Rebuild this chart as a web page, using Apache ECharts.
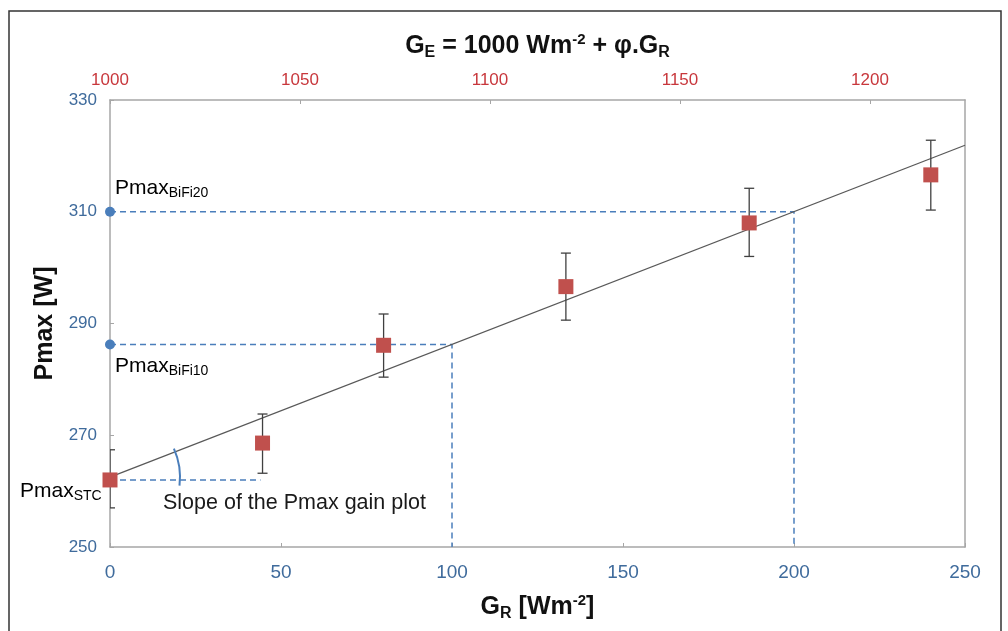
<!DOCTYPE html>
<html>
<head>
<meta charset="utf-8">
<script src="https://cdn.jsdelivr.net/npm/echarts@6/dist/echarts.min.js"></script>
<style>
  html, body { margin: 0; padding: 0; background: #fff; }
  #main { width: 1008px; height: 631px; }
</style>
</head>
<body>
<div id="main"></div>
<script>
// irradiance on the rear side, W/m2
var grVals = [0, 44.6, 80, 133.3, 186.9, 240];
var pmaxVals = [262.0, 268.6, 286.1, 296.6, 308.0, 316.6];
var errHigh = [267.4, 273.8, 291.7, 302.6, 314.2, 322.8];
var errLow = [257.0, 263.2, 280.4, 290.6, 302.0, 310.3];

// linear fit of Pmax vs G_R
var trendX = [0, 250];
var trendY = [262.5, 321.9];

// Pmax read at G_R = 100 and 200
var bifi10 = [100, 286.25];
var bifi20 = [200, 310];
var stcLine = [[0, 262], [44, 262]];

var bottomTicks = [0, 50, 100, 150, 200, 250];
var topTicks = [1000, 1050, 1100, 1150, 1200];
var leftTicks = [250, 270, 290, 310, 330];

var FONT = 'Liberation Sans';
var axisGray = '#a6a6a6';
var blueTxt = '#3f6b9c';
var redTxt = '#c8373c';
var dashBlue = '#4a7ebb';

var chart = echarts.init(document.getElementById('main'));

var pts = grVals.map(function (x, i) { return [x, pmaxVals[i]]; });
var errs = grVals.map(function (x, i) { return [x, errLow[i], errHigh[i]]; });

var nameRich = {
    b: { fontSize: 25, fontWeight: 'bold', color: '#111', fontFamily: FONT, lineHeight: 28 },
    s: { fontSize: 16, fontWeight: 'bold', color: '#111', fontFamily: FONT, padding: [13, 0, 0, 0], lineHeight: 16 },
    p: { fontSize: 15, fontWeight: 'bold', color: '#111', fontFamily: FONT, padding: [0, 0, 13, 0], lineHeight: 15 }
};

var option = {
    backgroundColor: '#fff',
    animation: false,
    textStyle: { fontFamily: FONT },
    grid: { left: 110, right: 43, top: 100, bottom: 84 },
    xAxis: [{
        type: 'value', position: 'bottom',
        min: bottomTicks[0], max: bottomTicks[bottomTicks.length - 1], interval: 50,
        axisLine: { show: true, lineStyle: { color: axisGray, width: 1.5 } },
        axisTick: { show: true, inside: true, length: 4, lineStyle: { color: axisGray } },
        splitLine: { show: false },
        axisLabel: { color: blueTxt, fontSize: 19, margin: 16, fontFamily: FONT },
        name: '{b|G}{s|R}{b| [Wm}{p|-2}{b|]}',
        nameLocation: 'middle', nameGap: 46,
        nameTextStyle: { rich: nameRich }
    }, {
        type: 'value', position: 'top',
        min: topTicks[0], max: 1225, interval: 50,
        axisLine: { show: true, lineStyle: { color: axisGray, width: 1.5 } },
        axisTick: { show: true, inside: true, length: 4, lineStyle: { color: axisGray } },
        splitLine: { show: false },
        axisLabel: { color: redTxt, fontSize: 17, margin: 11, fontFamily: FONT,
            showMaxLabel: false, formatter: function (v) { return String(v); } },
        name: '{b|G}{s|E}{b| = 1000 Wm}{p|-2}{b| + φ.G}{s|R}',
        nameLocation: 'middle', nameGap: 40,
        nameTextStyle: { rich: nameRich }
    }],
    yAxis: [{
        type: 'value', position: 'left',
        min: leftTicks[0], max: leftTicks[leftTicks.length - 1], interval: 20,
        axisLine: { show: true, lineStyle: { color: axisGray, width: 1.5 } },
        axisTick: { show: true, inside: true, length: 4, lineStyle: { color: axisGray } },
        splitLine: { show: false },
        axisLabel: { color: blueTxt, fontSize: 17, margin: 13, fontFamily: FONT },
        name: 'Pmax [W]', nameLocation: 'middle', nameGap: 46,
        nameTextStyle: { fontSize: 25, fontWeight: 'bold', color: '#111', fontFamily: FONT }
    }, {
        type: 'value', position: 'right',
        min: leftTicks[0], max: leftTicks[leftTicks.length - 1], interval: 20,
        axisLine: { show: true, lineStyle: { color: axisGray, width: 1.5 } },
        axisTick: { show: false }, axisLabel: { show: false }, splitLine: { show: false }
    }],
    series: [{
        name: 'trend', type: 'line', xAxisIndex: 0, yAxisIndex: 0,
        data: trendX.map(function (x, i) { return [x, trendY[i]]; }),
        symbol: 'none', lineStyle: { color: '#595959', width: 1.3 }, z: 3
    }, {
        name: 'bifi20', type: 'line', xAxisIndex: 0, yAxisIndex: 0,
        data: [[0, bifi20[1]], bifi20, [bifi20[0], leftTicks[0]]],
        symbol: 'none', lineStyle: { color: dashBlue, width: 1.5, type: [6, 4] }, z: 2
    }, {
        name: 'bifi10', type: 'line', xAxisIndex: 0, yAxisIndex: 0,
        data: [[0, bifi10[1]], bifi10, [bifi10[0], leftTicks[0]]],
        symbol: 'none', lineStyle: { color: dashBlue, width: 1.5, type: [6, 4] }, z: 2
    }, {
        name: 'stc', type: 'line', xAxisIndex: 0, yAxisIndex: 0,
        data: stcLine,
        symbol: 'none', lineStyle: { color: dashBlue, width: 1.5, type: [6, 4] }, z: 2
    }, {
        name: 'dots', type: 'scatter', xAxisIndex: 0, yAxisIndex: 0,
        data: [[0, bifi20[1]], [0, bifi10[1]]],
        symbol: 'circle', symbolSize: 10,
        itemStyle: { color: dashBlue, opacity: 1 }, z: 4
    }, {
        name: 'err', type: 'custom', xAxisIndex: 0, yAxisIndex: 0,
        data: errs, clip: true, z: 4,
        renderItem: function (params, api) {
            var top = api.coord([api.value(0), api.value(2)]);
            var bot = api.coord([api.value(0), api.value(1)]);
            var w = 5;
            var st = { stroke: '#404040', lineWidth: 1.3 };
            return {
                type: 'group',
                children: [
                    { type: 'line', shape: { x1: top[0], y1: top[1], x2: bot[0], y2: bot[1] }, style: st },
                    { type: 'line', shape: { x1: top[0] - w, y1: top[1], x2: top[0] + w, y2: top[1] }, style: st },
                    { type: 'line', shape: { x1: bot[0] - w, y1: bot[1], x2: bot[0] + w, y2: bot[1] }, style: st }
                ]
            };
        }
    }, {
        name: 'Pmax', type: 'scatter', xAxisIndex: 0, yAxisIndex: 0,
        data: pts, symbol: 'rect', symbolSize: 15,
        itemStyle: { color: '#c0504d', opacity: 1 }, z: 5
    }]
};

chart.setOption(option);

// annotations
var rich = {
    m: { fontSize: 21, color: '#1a1a1a', fontFamily: FONT, lineHeight: 24 },
    s: { fontSize: 14, color: '#1a1a1a', fontFamily: FONT, padding: [11, 0, 0, 0], lineHeight: 14 }
};
var toPx = function (p) { return chart.convertToPixel({ xAxisIndex: 0, yAxisIndex: 0 }, p); };
var c = toPx([trendX[0], trendY[0]]);
var e = toPx([trendX[1], trendY[1]]);
var ang = Math.atan2(e[1] - c[1], e[0] - c[0]);

chart.setOption({
    graphic: [
        { type: 'rect', shape: { x: 9, y: 11, width: 992, height: 640 },
          style: { fill: 'none', stroke: '#333', lineWidth: 1.5 }, z: 0 },
        { type: 'arc', shape: { cx: c[0], cy: c[1], r: 70, startAngle: ang - 0.05, endAngle: 0.12 },
          style: { fill: 'none', stroke: '#4a7ebb', lineWidth: 2 }, z: 10 },
        { type: 'text', x: 115, y: 188, style: { text: '{m|Pmax}{s|BiFi20}', rich: rich, verticalAlign: 'middle' }, z: 10 },
        { type: 'text', x: 115, y: 366, style: { text: '{m|Pmax}{s|BiFi10}', rich: rich, verticalAlign: 'middle' }, z: 10 },
        { type: 'text', x: 20, y: 491, style: { text: '{m|Pmax}{s|STC}', rich: rich, verticalAlign: 'middle' }, z: 10 },
        { type: 'text', x: 163, y: 503, style: { text: 'Slope of the Pmax gain plot', fontSize: 21.5,
          fill: '#1a1a1a', fontFamily: FONT, verticalAlign: 'middle' }, z: 10 }
    ]
});
</script>
</body>
</html>
